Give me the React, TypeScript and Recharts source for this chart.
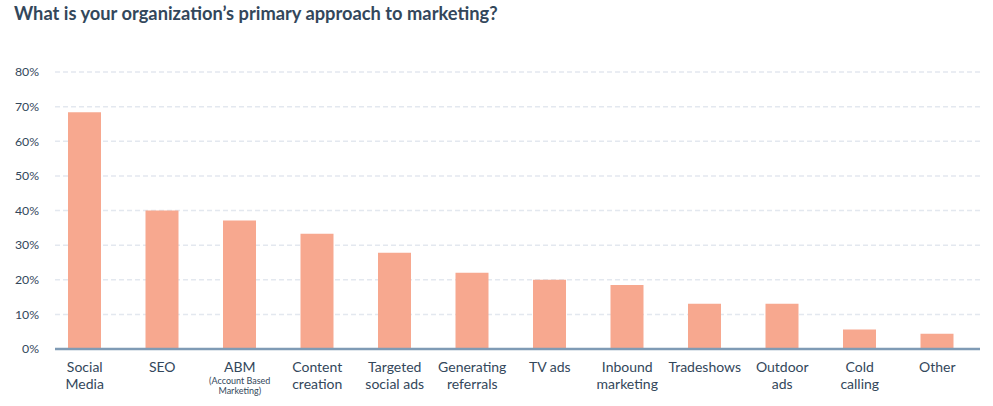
import React from "react";
import { BarChart, Bar, XAxis, YAxis, CartesianGrid } from "recharts";

const categories = [
  "Social Media",
  "SEO",
  "ABM",
  "Content creation",
  "Targeted social ads",
  "Generating referrals",
  "TV ads",
  "Inbound marketing",
  "Tradeshows",
  "Outdoor ads",
  "Cold calling",
  "Other",
];

const labelLines: string[][] = [
  ["Social", "Media"],
  ["SEO"],
  ["ABM"],
  ["Content", "creation"],
  ["Targeted", "social ads"],
  ["Generating", "referrals"],
  ["TV ads"],
  ["Inbound", "marketing"],
  ["Tradeshows"],
  ["Outdoor", "ads"],
  ["Cold", "calling"],
  ["Other"],
];

const subLabels: string[][] = [
  [],
  [],
  ["(Account Based", "Marketing)"],
  [],
  [],
  [],
  [],
  [],
  [],
  [],
  [],
  [],
];

const values = [68.4, 40, 37.1, 33.3, 27.8, 22, 20, 18.5, 13.1, 13.1, 5.6, 4.4];

const yTicks = [0, 10, 20, 30, 40, 50, 60, 70, 80];

const title = "What is your organization\u2019s primary approach to marketing?";

const data = categories.map((c, i) => ({ name: c, value: values[i], idx: i }));

const FONT = "Lato, 'Open Sans', sans-serif";
const TEXT = "#33475b";

const XTick = (props: any) => {
  const { x, y, index } = props;
  const lines = labelLines[index] || [];
  const subs = subLabels[index] || [];
  return (
    <g>
      {lines.map((l, i) => (
        <text
          key={"l" + i}
          x={x}
          y={y + 23 + i * 16.5}
          textAnchor="middle"
          fontSize={14}
          fontFamily={FONT}
          fill={TEXT}
        >
          {l}
        </text>
      ))}
      {subs.map((l, i) => (
        <text
          key={"s" + i}
          x={x}
          y={y + 34.5 + i * 10}
          textAnchor="middle"
          fontSize={9}
          fontFamily={FONT}
          fill={TEXT}
        >
          {l}
        </text>
      ))}
    </g>
  );
};

export default function App() {
  return (
    <div
      style={{
        position: "absolute",
        top: 0,
        left: 0,
        width: 993,
        height: 406,
        background: "#fff",
        fontFamily: FONT,
      }}
    >
      <div
        style={{
          position: "absolute",
          top: 2,
          left: 14,
          fontSize: 18.3,
          lineHeight: "22px",
          fontWeight: 700,
          color: TEXT,
          whiteSpace: "nowrap",
        }}
      >
        {title}
      </div>
      <div style={{ position: "absolute", top: 0, left: 0 }}>
        <BarChart
          width={993}
          height={406}
          data={data}
          margin={{ top: 72, right: 13, bottom: 0, left: 0 }}
          barCategoryGap={0}
        >
          <CartesianGrid
            vertical={false}
            stroke="#e3e8ef"
            strokeWidth={1.5}
            strokeDasharray="5 3"
          />
          <XAxis
            dataKey="name"
            height={57}
            interval={0}
            tickLine={false}
            tickSize={0}
            tickMargin={0}
            axisLine={{ stroke: "#7f9bb5", strokeWidth: 2.5 }}
            tick={<XTick />}
            padding={{ left: -9, right: 4 }}
          />
          <YAxis
            width={55}
            domain={[0, 80]}
            ticks={yTicks}
            interval={0}
            axisLine={false}
            tickLine={false}
            tickSize={0}
            tickMargin={16}
            tickFormatter={(v: number) => `${v}%`}
            tick={{ fontSize: 12.3, fill: TEXT, fontFamily: FONT }}
          />
          <Bar dataKey="value" fill="#f7a88f" barSize={33} isAnimationActive={false} />
        </BarChart>
      </div>
    </div>
  );
}
